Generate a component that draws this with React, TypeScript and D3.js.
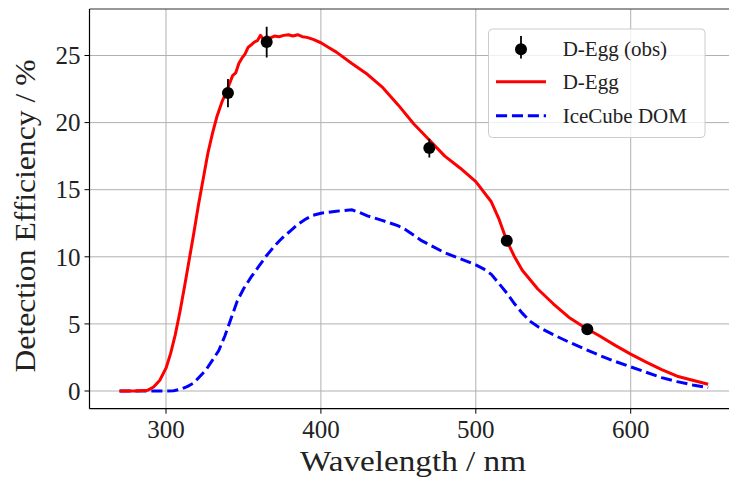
import React from "react";
import * as d3 from "d3";

const W = 729;
const H = 477;

// D-Egg simulated efficiency curve (wavelength nm, efficiency %)
const degWl = [270, 280, 288, 292, 296, 300, 303, 306, 309, 312, 315, 318, 321, 324, 327, 330, 333, 336, 339, 341, 343, 345, 347, 349, 351, 353, 355, 357, 359, 361, 363, 365, 367, 370, 373, 376, 379, 382, 385, 388, 391, 395, 400, 405, 410, 420, 430, 440, 450, 460, 470, 480, 490, 500, 510, 515, 520, 525, 530, 540, 550, 560, 570, 580, 590, 600, 610, 620, 630, 640, 650];
const degEff = [0, 0, 0.05, 0.3, 0.8, 1.7, 2.8, 4.2, 5.9, 7.8, 9.8, 11.8, 13.9, 15.8, 17.7, 19.2, 20.5, 21.5, 22.3, 22.9, 23.5, 23.7, 24.4, 24.8, 25.1, 25.6, 25.8, 26.0, 26.1, 26.5, 26.2, 26.4, 26.3, 26.45, 26.4, 26.5, 26.55, 26.45, 26.55, 26.4, 26.35, 26.2, 25.95, 25.6, 25.25, 24.4, 23.6, 22.6, 21.3, 19.9, 18.7, 17.5, 16.6, 15.6, 14.1, 12.8, 11.2, 10.0, 9.0, 7.6, 6.5, 5.5, 4.75, 4.1, 3.4, 2.75, 2.15, 1.6, 1.1, 0.8, 0.5];

// IceCube DOM efficiency curve
const domWl = [270, 280, 290, 300, 305, 310, 314, 318, 322, 326, 330, 334, 338, 342, 346, 350, 355, 360, 365, 370, 375, 380, 385, 390, 395, 400, 410, 420, 425, 430, 440, 450, 455, 460, 465, 470, 480, 490, 500, 505, 510, 515, 520, 525, 530, 535, 540, 550, 560, 570, 580, 590, 600, 610, 620, 630, 640, 650];
const domEff = [0, 0, 0, 0, 0.02, 0.15, 0.35, 0.6, 1.1, 1.6, 2.3, 3.0, 4.1, 5.4, 6.7, 7.6, 8.5, 9.3, 10.1, 10.8, 11.4, 11.9, 12.4, 12.8, 13.1, 13.25, 13.4, 13.5, 13.3, 13.05, 12.7, 12.3, 12.0, 11.6, 11.2, 10.9, 10.3, 9.85, 9.4, 9.1, 8.7, 8.0, 7.3, 6.5, 5.8, 5.2, 4.8, 4.2, 3.65, 3.15, 2.65, 2.2, 1.8, 1.4, 1.0, 0.7, 0.45, 0.25];

// Observed D-Egg points
const obsWl = [340, 365, 470, 520, 572];
const obsEff = [22.2, 26.0, 18.1, 11.2, 4.6];
const obsErr = [1.05, 1.15, 0.7, 0.4, 0.2];

const xTicks = [300, 400, 500, 600];
const yTicks = [0, 5, 10, 15, 20, 25];

const legendLabels = ["D-Egg (obs)", "D-Egg", "IceCube DOM"];

const FONT = "'Liberation Serif', 'DejaVu Serif', serif";

export default function App() {
  const left = 89.5;
  const right = 737.5;
  const top = 9;
  const bottom = 408.7;

  const x = d3.scaleLinear().domain([300, 600]).range([166, 630.7]);
  const y = d3.scaleLinear().domain([0, 25]).range([391, 55.5]);

  const line = d3
    .line<[number, number]>()
    .x((d) => x(d[0]))
    .y((d) => y(d[1]));

  const degPath = line(degWl.map((w, i) => [w, degEff[i]] as [number, number])) || "";
  const domPath = line(domWl.map((w, i) => [w, domEff[i]] as [number, number])) || "";

  const gridColor = "#b0b0b0";

  return (
    <svg
      width={W}
      height={H}
      style={{ position: "absolute", left: 0, top: 0, background: "#fff" }}
      fontFamily={FONT}
    >
      <defs>
        <clipPath id="plotClip">
          <rect x={left} y={top} width={right - left} height={bottom - top} />
        </clipPath>
      </defs>
      <rect x={0} y={0} width={W} height={H} fill="#fff" />

      {/* grid */}
      {xTicks.map((t) => (
        <line key={"gx" + t} x1={x(t)} x2={x(t)} y1={top} y2={bottom} stroke={gridColor} strokeWidth={1} />
      ))}
      {yTicks.map((t) => (
        <line key={"gy" + t} x1={left} x2={right} y1={y(t)} y2={y(t)} stroke={gridColor} strokeWidth={1} />
      ))}

      {/* data */}
      <g clipPath="url(#plotClip)">
        <path d={domPath} fill="none" stroke="#0000ff" strokeWidth={3} strokeDasharray="11.1 4.8" />
        <path d={degPath} fill="none" stroke="#ff0000" strokeWidth={3} strokeLinejoin="round" />
        {obsWl.map((w, i) => (
          <g key={"o" + i}>
            <line
              x1={x(w)}
              x2={x(w)}
              y1={y(obsEff[i] - obsErr[i])}
              y2={y(obsEff[i] + obsErr[i])}
              stroke="#000"
              strokeWidth={1.8}
            />
            <circle cx={x(w)} cy={y(obsEff[i])} r={6} fill="#000" />
          </g>
        ))}
      </g>

      {/* spines */}
      <line x1={left} x2={right} y1={top} y2={top} stroke="#333" strokeWidth={1.2} />
      <line x1={left} x2={left} y1={top} y2={bottom} stroke="#000" strokeWidth={1.2} />
      <line x1={left} x2={right} y1={bottom} y2={bottom} stroke="#000" strokeWidth={1.2} />

      {/* x ticks */}
      {xTicks.map((t) => (
        <g key={"xt" + t}>
          <line x1={x(t)} x2={x(t)} y1={bottom} y2={bottom + 5} stroke="#000" strokeWidth={1} />
          <text x={x(t)} y={438} textAnchor="middle" fontSize={25} fill="#222">
            {t}
          </text>
        </g>
      ))}
      {/* y ticks */}
      {yTicks.map((t) => (
        <g key={"yt" + t}>
          <line x1={left - 5} x2={left} y1={y(t)} y2={y(t)} stroke="#000" strokeWidth={1} />
          <text x={left - 9} y={y(t)} dy="0.35em" textAnchor="end" fontSize={25} fill="#222">
            {t}
          </text>
        </g>
      ))}

      {/* axis labels */}
      <text x={413} y={471} textAnchor="middle" fontSize={30} fill="#222" textLength={226} lengthAdjust="spacingAndGlyphs">
        Wavelength / nm
      </text>
      <text
        transform={`translate(35, 216) rotate(-90)`}
        textAnchor="middle"
        fontSize={30}
        fill="#222"
        textLength={313}
        lengthAdjust="spacingAndGlyphs"
      >
        Detection Efficiency / %
      </text>

      {/* legend */}
      <g>
        <rect x={488.5} y={29} width={216.5} height={108.5} rx={4} fill="#fff" fillOpacity={0.8} stroke="#cccccc" strokeWidth={1} />
        {/* obs marker */}
        <line x1={521} x2={521} y1={36} y2={58.5} stroke="#000" strokeWidth={1.8} />
        <circle cx={521} cy={49.3} r={6} fill="#000" />
        <line x1={496} x2={546} y1={81.7} y2={81.7} stroke="#ff0000" strokeWidth={3} />
        <line x1={496} x2={546} y1={115.7} y2={115.7} stroke="#0000ff" strokeWidth={3} strokeDasharray="11.1 4.8" />
        {legendLabels.map((lab, i) => (
          <text
            key={lab}
            x={562.7}
            y={[49.3, 81.7, 115.7][i]}
            dy="0.33em"
            fontSize={21}
            fill="#222"
          >
            {lab}
          </text>
        ))}
      </g>
    </svg>
  );
}
